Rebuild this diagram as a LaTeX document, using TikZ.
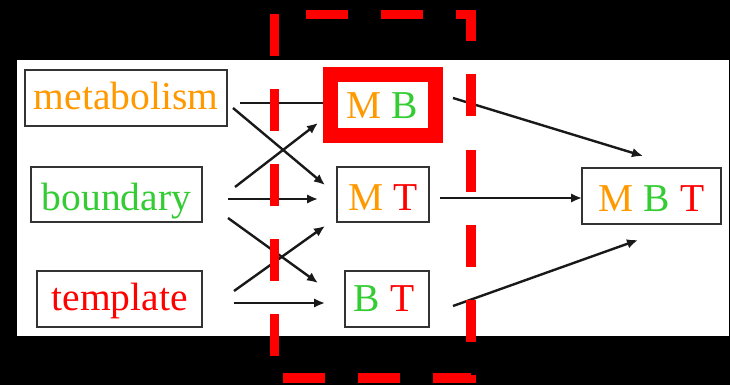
\documentclass[tikz,border=0pt]{standalone}
\usepackage{fontspec}
\setmainfont{Liberation Serif}
\usetikzlibrary{arrows.meta}
\definecolor{orng}{RGB}{255,153,0}
\definecolor{grn}{RGB}{51,204,51}
\definecolor{rd}{RGB}{255,0,0}
\begin{document}
\begin{tikzpicture}[x=1pt,y=-1pt,
  box/.style={draw=black!80,line width=1.8pt,inner sep=0pt,outer sep=0pt,
    font=\fontsize{39.5}{40}\selectfont,text depth=9pt},
  conn/.style={line width=2.4pt,draw=black!90,-{Latex[length=11pt,width=9.5pt]}},
  reddash/.style={rd,line width=9.5pt,dash pattern=on 42pt off 33pt}]
\fill[black] (0,0) rectangle (730,385);
\useasboundingbox (0,0) rectangle (730,385);
\fill[white] (17,60) rectangle (729,336);
% source nodes
\node[box,minimum width=202,minimum height=56,text height=33pt] (met) at (126,98)
  {\textcolor{orng}{metabolism}};
\node[box,minimum width=171,minimum height=55,text height=40pt] (bnd) at (116.5,194.5)
  {\textcolor{grn}{boundary}};
\node[box,minimum width=165,minimum height=56,text height=31pt] (tpl) at (119.5,299)
  {\textcolor{rd}{template}};
% pair nodes
\node[box,draw=rd,line width=15pt,minimum width=105,minimum height=60,text height=35pt] (mb) at (382.5,105)
  {\textcolor{orng}{M} \textcolor{grn}{B}};
\node[box,minimum width=92,minimum height=55,text height=40pt] (mt) at (383,194.5)
  {\textcolor{orng}{M} \textcolor{rd}{T}};
\node[box,minimum width=84,minimum height=56,text height=34.4pt] (bt) at (387,299)
  {\textcolor{grn}{B} \textcolor{rd}{T}\hspace*{6pt}};
% result node
\node[box,minimum width=139,minimum height=56,text height=39pt] (mbt) at (651.5,196)
  {\textcolor{orng}{M} \textcolor{grn}{B} \textcolor{rd}{T}};
% connectors
\draw[line width=2.4pt,draw=black!90] ([shift={(13,5)}]met.east) -- ([shift={(-7.5,-2)}]mb.west);
\draw[conn] ([shift={(6,10)}]met.east) -- ([shift={(-12,-9.5)}]mt.west);
\draw[conn] ([shift={(33,-7.5)}]bnd.east) -- ([shift={(-12,18)}]mb.west);
\draw[conn] ([shift={(26,4.5)}]bnd.east) -- ([shift={(-19,4.5)}]mt.west);
\draw[conn] ([shift={(26,23.5)}]bnd.east) -- ([shift={(-27,-16)}]bt.west);
\draw[conn] ([shift={(32,-8)}]tpl.east) -- ([shift={(-12,31.5)}]mt.west);
\draw[conn] ([shift={(32,4)}]tpl.east) -- ([shift={(-20,4)}]bt.west);
\draw[conn] ([shift={(18,-7)}]mb.east) -- ([shift={(-8.5,-12)}]mbt.north);
\draw[conn] ([shift={(11,3.5)}]mt.east) -- ([shift={(0,2)}]mbt.west);
\draw[conn] ([shift={(24,7)}]bt.east) -- ([shift={(-13.5,16)}]mbt.south);
% red dashed frame
\draw[reddash,dash phase=43.5pt] (274.5,14.5) -- (471,14.5) -- (471,378) -- (274.5,378);
\draw[reddash,dash phase=53pt] (274.5,378) -- (274.5,14.5);
\end{tikzpicture}
\end{document}
